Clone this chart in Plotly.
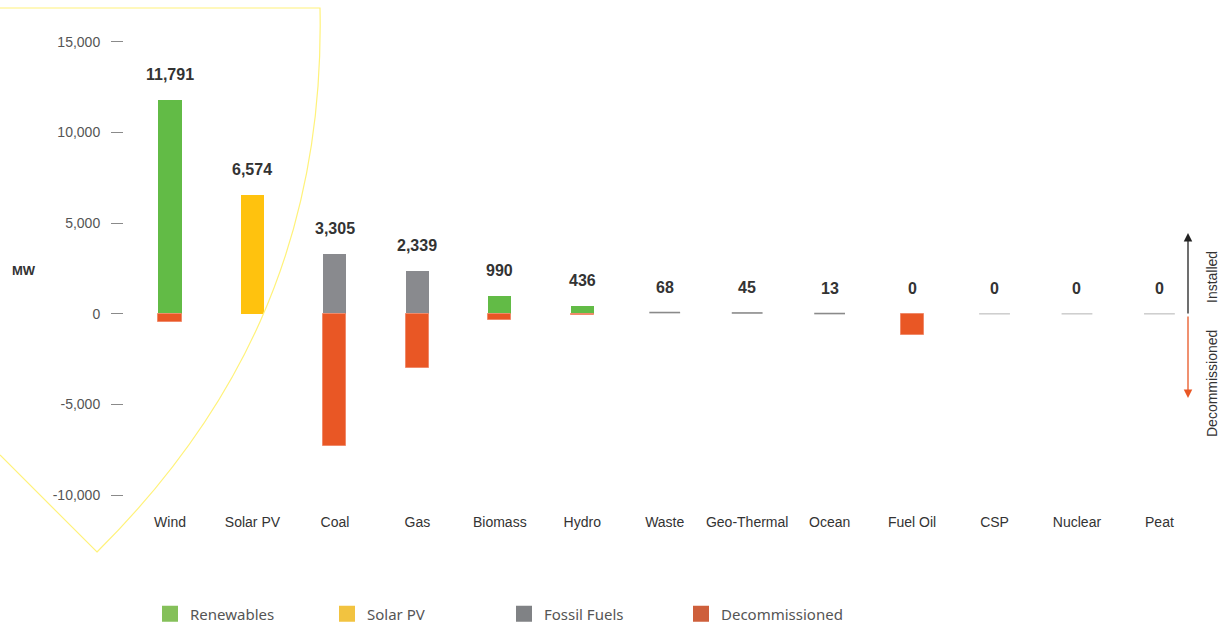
import plotly.graph_objects as go

categories = ["Wind", "Solar PV", "Coal", "Gas", "Biomass", "Hydro", "Waste",
              "Geo-Thermal", "Ocean", "Fuel Oil", "CSP", "Nuclear", "Peat"]
installed = [11791, 6574, 3305, 2339, 990, 436, 68, 45, 13, 0, 0, 0, 0]
group = ["Renewables", "Solar PV", "Fossil Fuels", "Fossil Fuels", "Renewables",
         "Renewables", "Other", "Other", "Other", "None", "Zero", "Zero", "Zero"]
decommissioned = [-450, 0, -7280, -2980, -370, -90, 0, 0, 0, -1150, 0, 0, 0]
label_text = ["11,791", "6,574", "3,305", "2,339", "990", "436", "68", "45", "13",
              "0", "0", "0", "0"]
y_ticks = [-10000, -5000, 0, 5000, 10000, 15000]
y_tick_text = ["-10,000", "-5,000", "0", "5,000", "10,000", "15,000"]

bar_colors = {"Renewables": "#62BB46", "Solar PV": "#FFC20E",
              "Fossil Fuels": "#898A8E", "Decommissioned": "#E95725"}
legend_colors = {"Renewables": "#85C05A", "Solar PV": "#F2C340",
                 "Fossil Fuels": "#808285", "Decommissioned": "#CE5F3B"}

W, H = 1223, 628
L, R, T, B = 124, 31, 20, 122
PW, PH = W - L - R, H - T - B


def px(x):
    return (x - L) / PW


def py(y):
    return (H - B - y) / PH


fig = go.Figure()

for g in ["Renewables", "Solar PV", "Fossil Fuels"]:
    fig.add_trace(go.Bar(
        x=categories,
        y=[v if grp == g else None for v, grp in zip(installed, group)],
        marker=dict(color=bar_colors[g], line=dict(width=0)),
        width=0.28, showlegend=False, hoverinfo="x+y"))

fig.add_trace(go.Bar(
    x=categories,
    y=[d if d < 0 else None for d in decommissioned],
    marker=dict(color=bar_colors["Decommissioned"],
                line=dict(color="#F08A6A", width=1)),
    width=0.28, showlegend=False))

# small / zero values drawn as thin lines
for g, col in [("Other", "#8A8A8A"), ("Zero", "#CFCFCF")]:
    fig.add_trace(go.Scatter(
        x=[c for c, grp in zip(categories, group) if grp == g],
        y=[v for v, grp in zip(installed, group) if grp == g],
        mode="markers",
        marker=dict(symbol="line-ew", size=22, line=dict(color=col, width=1.6)),
        showlegend=False, hoverinfo="x+y"))

# legend entries
for name in ["Renewables", "Solar PV", "Fossil Fuels", "Decommissioned"]:
    fig.add_trace(go.Scatter(
        x=[None], y=[None], mode="markers", name=name,
        marker=dict(symbol="square", size=16, color=legend_colors[name])))

# value labels
for c, v, t in zip(categories, installed, label_text):
    fig.add_annotation(x=c, y=v, text=t, showarrow=False, xref="x", yref="y",
                       yanchor="bottom", yshift=15,
                       font=dict(family="Liberation Sans, Arial", size=16,
                                 color="#333333", weight="bold"))

# MW label
fig.add_annotation(x=px(24), y=py(270), xref="paper", yref="paper", text="MW",
                   showarrow=False, xanchor="center", yanchor="middle",
                   font=dict(family="Liberation Sans, Arial", size=13,
                             color="#333333", weight="bold"))

# arrows on the right
fig.add_annotation(x=px(1188), y=py(233), ax=0, ay=82,
                   xref="paper", yref="paper", axref="pixel", ayref="pixel",
                   showarrow=True, arrowhead=2, arrowsize=1.3, arrowwidth=1.3,
                   arrowcolor="#222222", text="")
fig.add_annotation(x=px(1188), y=py(398), ax=0, ay=-83,
                   xref="paper", yref="paper", axref="pixel", ayref="pixel",
                   showarrow=True, arrowhead=2, arrowsize=1.3, arrowwidth=1.3,
                   arrowcolor="#E95725", text="")
fig.add_annotation(x=px(1212), y=py(277), xref="paper", yref="paper",
                   text="Installed", textangle=-90, showarrow=False,
                   xanchor="center", yanchor="middle",
                   font=dict(family="Liberation Sans, Arial", size=14, color="#333333"))
fig.add_annotation(x=px(1212), y=py(384), xref="paper", yref="paper",
                   text="Decommissioned", textangle=-90, showarrow=False,
                   xanchor="center", yanchor="middle",
                   font=dict(family="Liberation Sans, Arial", size=14, color="#333333"))

# decorative yellow outline
path = (f"M {px(0)},{py(8)} L {px(320)},{py(8)} "
        f"C {px(325)},{py(250)} {px(230)},{py(420)} {px(97)},{py(552)} "
        f"L {px(0)},{py(455)}")
fig.add_shape(type="path", path=path, xref="paper", yref="paper",
              line=dict(color="#FFF27A", width=1.2), layer="above")

fig.update_layout(
    width=W, height=H,
    margin=dict(l=L, r=R, t=T, b=B, autoexpand=False),
    plot_bgcolor="white", paper_bgcolor="white",
    barmode="relative",
    bargap=0,
    font=dict(family="Liberation Sans, Arial", color="#333333"),
    xaxis=dict(type="category", range=[-0.558, 12.395], showgrid=False,
               showline=False, zeroline=False, ticks="",
               ticklabelstandoff=6,
               tickfont=dict(size=14, color="#333333"),
               fixedrange=True),
    yaxis=dict(range=[-10600, 16200], tickvals=y_ticks, ticktext=y_tick_text,
               showgrid=False, zeroline=False, showline=False,
               ticks="outside", ticklen=12, tickcolor="#8A8A8A", tickwidth=1,
               ticklabelstandoff=8,
               tickfont=dict(size=14, color="#555555")),
    legend=dict(orientation="h", x=px(150), y=py(614), xanchor="left",
                yanchor="middle", entrywidth=132,
                font=dict(family="Noto Sans", size=15, color="#555555")),
    showlegend=True,
)

fig.write_html("out.html", config={"displayModeBar": False},
               post_script="document.body.style.margin='0';")
